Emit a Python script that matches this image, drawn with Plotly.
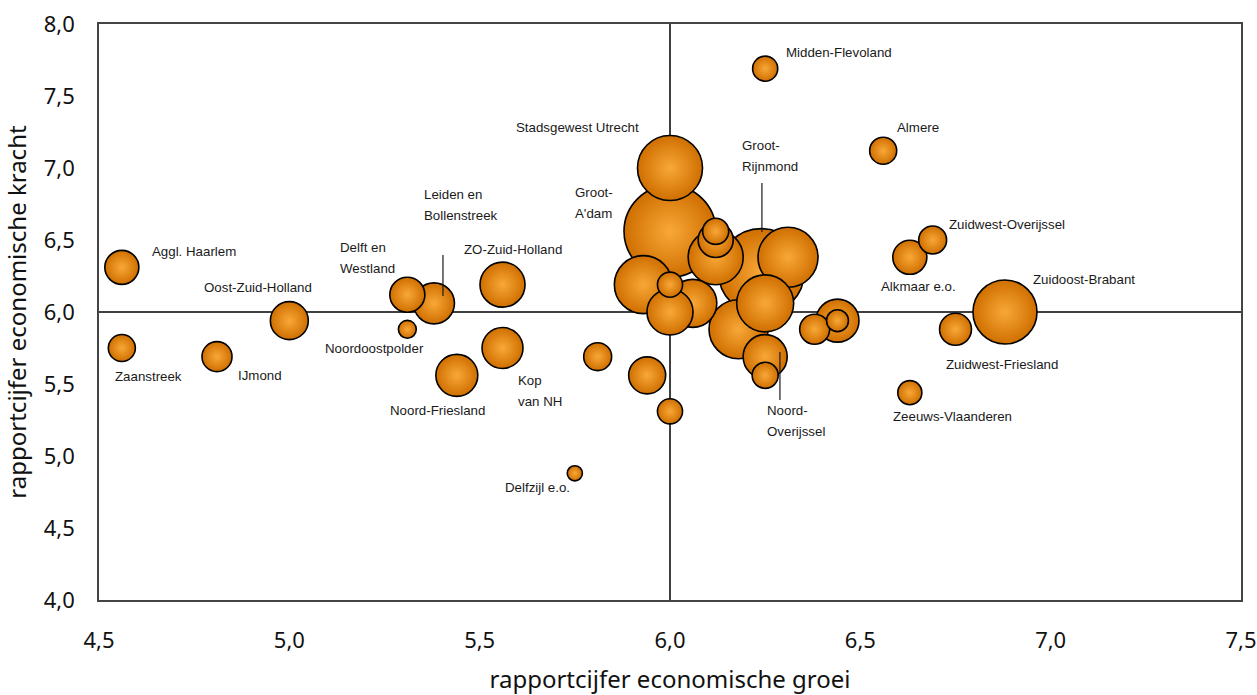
import plotly.graph_objects as go

# ---- data -------------------------------------------------------------
gebied = [
    "Aggl. Haarlem", "Zaanstreek", "IJmond", "Oost-Zuid-Holland", "Delft en Westland",
    "Leiden en Bollenstreek", "Noordoostpolder", "ZO-Zuid-Holland", "Kop van NH", "Noord-Friesland",
    "Delfzijl e.o.", "", "", "", "",
    "", "", "", "Groot-A'dam", "Stadsgewest Utrecht",
    "", "", "", "Groot-Rijnmond", "",
    "", "", "Noord-Overijssel", "", "",
    "", "", "Midden-Flevoland", "Almere", "Zuidwest-Overijssel",
    "Alkmaar e.o.", "Zuidoost-Brabant", "Zuidwest-Friesland", "Zeeuws-Vlaanderen",
]
groei = [
    4.56, 4.56, 4.81, 5.00, 5.31,
    5.38, 5.31, 5.56, 5.56, 5.44,
    5.75, 5.81, 5.94, 6.00, 5.93,
    6.00, 6.00, 6.06, 6.00, 6.00,
    6.12, 6.12, 6.12, 6.24, 6.31,
    6.25, 6.18, 6.25, 6.25, 6.38,
    6.44, 6.44, 6.25, 6.56, 6.69,
    6.63, 6.88, 6.75, 6.63,
]
kracht = [
    6.31, 5.75, 5.69, 5.94, 6.12,
    6.06, 5.88, 6.19, 5.75, 5.56,
    4.88, 5.69, 5.56, 5.31, 6.19,
    6.00, 6.19, 6.06, 6.56, 7.00,
    6.56, 6.50, 6.38, 6.28, 6.38,
    6.06, 5.88, 5.69, 5.56, 5.88,
    5.94, 5.94, 7.69, 7.12, 6.50,
    6.38, 6.00, 5.88, 5.44,
]
omvang = [
    11.6, 7.3, 9.0, 14.4, 12.3,
    16.8, 3.2, 20.3, 16.8, 17.6,
    2.3, 7.8, 13.7, 6.3, 33.6,
    21.2, 6.3, 23.0, 84.6, 42.3,
    6.8, 12.3, 30.3, 74.0, 36.0,
    32.5, 34.8, 19.4, 6.8, 9.0,
    18.5, 4.8, 6.3, 7.3, 7.8,
    11.6, 41.0, 10.2, 5.8,
]

# labels: (lines, x, y, anchor)
labels = [
    (["Aggl. Haarlem"], 4.634, 6.417, "left"),
    (["Zaanstreek"], 4.629, 5.549, "center"),
    (["IJmond"], 4.923, 5.556, "center"),
    (["Oost-Zuid-Holland"], 4.918, 6.167, "center"),
    (["Delft en", "Westland"], 5.128, 6.375, "left"),
    (["Leiden en", "Bollenstreek"], 5.348, 6.743, "left"),
    (["ZO-Zuid-Holland"], 5.587, 6.4375, "center"),
    (["Noordoostpolder"], 5.225, 5.75, "center"),
    (["Noord-Friesland"], 5.388, 5.319, "center"),
    (["Kop", "van NH"], 5.595, 5.451, "left"),
    (["Delfzijl e.o."], 5.653, 4.778, "center"),
    (["Stadsgewest Utrecht"], 5.758, 7.278, "center"),
    (["Groot-", "A'dam"], 5.745, 6.757, "left"),
    (["Groot-", "Rijnmond"], 6.184, 7.083, "left"),
    (["Midden-Flevoland"], 6.299, 7.799, "left"),
    (["Almere"], 6.591, 7.278, "left"),
    (["Zuidwest-Overijssel"], 6.727, 6.611, "left"),
    (["Alkmaar e.o."], 6.654, 6.174, "center"),
    (["Zuidoost-Brabant"], 6.948, 6.229, "left"),
    (["Zuidwest-Friesland"], 6.872, 5.632, "center"),
    (["Zeeuws-Vlaanderen"], 6.743, 5.271, "center"),
    (["Noord-", "Overijssel"], 6.249, 5.243, "left"),
]

# callout connector lines (x, y_start, y_end)
callouts = [
    (5.4036, 6.396, 6.111),
    (6.2415, 6.896, 6.556),
    (6.2888, 5.722, 5.389),
]

x_ticks = [4.5, 5.0, 5.5, 6.0, 6.5, 7.0, 7.5]
y_ticks = [4.0, 4.5, 5.0, 5.5, 6.0, 6.5, 7.0, 7.5, 8.0]
midden = 6.0

# ---- figure -----------------------------------------------------------
order = sorted(range(len(omvang)), key=lambda i: -omvang[i])

fig = go.Figure()
fig.add_trace(go.Scatter(
    x=[groei[i] for i in order],
    y=[kracht[i] for i in order],
    text=[gebied[i] for i in order],
    mode="markers",
    marker=dict(
        size=[omvang[i] for i in order],
        sizemode="area",
        sizeref=0.02,
        color="#cf6f00",
        gradient=dict(type="radial", color="#f8a838"),
        line=dict(color="#000000", width=1.6),
        opacity=1,
    ),
    hovertemplate="%{text}<br>groei %{x}<br>kracht %{y}<extra></extra>",
    showlegend=False,
))

# quadrant lines
fig.add_shape(type="line", xref="x", yref="paper", x0=midden, x1=midden, y0=0, y1=1,
              line=dict(color="#000000", width=1.5), layer="below")
fig.add_shape(type="line", xref="paper", yref="y", x0=0, x1=1, y0=midden, y1=midden,
              line=dict(color="#000000", width=1.5), layer="below")

for cx, cy0, cy1 in callouts:
    fig.add_shape(type="line", xref="x", yref="y", x0=cx, x1=cx, y0=cy0, y1=cy1,
                  line=dict(color="#1a1a1a", width=1.2), layer="above")

lab_font = dict(family="Liberation Sans, Arial, sans-serif", size=13.3, color="#1a1a1a")
line_gap = 21
for lines, lx, ly, anchor in labels:
    n = len(lines)
    for k, t in enumerate(lines):
        shift = ((n - 1) / 2 - k) * line_gap
        fig.add_annotation(x=lx, y=ly, text=t, showarrow=False, xanchor=anchor,
                           yanchor="middle", yshift=shift, font=lab_font)

axis_font = dict(family="Noto Sans, sans-serif", size=22, color="#111111")
title_font = dict(family="Noto Sans, sans-serif", size=24, color="#111111")

fig.update_layout(
    width=1257, height=695,
    margin=dict(l=99, r=16, t=24, b=95),
    paper_bgcolor="white", plot_bgcolor="white",
    separators=",.",
    xaxis=dict(
        range=[4.5, 7.5], tickvals=x_ticks, tickformat=".1f",
        showgrid=False, zeroline=False, showline=True, mirror=True,
        linecolor="#444444", linewidth=1.5, ticks="", ticklabelstandoff=20,
        tickfont=axis_font, automargin=False,
        title=dict(text="rapportcijfer economische groei", font=title_font, standoff=20),
    ),
    yaxis=dict(
        range=[4.0, 8.0], tickvals=y_ticks, tickformat=".1f",
        showgrid=False, zeroline=False, showline=True, mirror=True,
        linecolor="#444444", linewidth=1.5, ticks="", ticklabelstandoff=18,
        tickfont=axis_font, automargin=False,
        title=dict(text="rapportcijfer economische kracht", font=title_font, standoff=12),
    ),
)

fig.write_html(
    "out.html",
    config={"displayModeBar": False},
    post_script="document.body.style.margin='0';document.body.style.padding='0';"
                "document.body.style.overflow='hidden';",
)
